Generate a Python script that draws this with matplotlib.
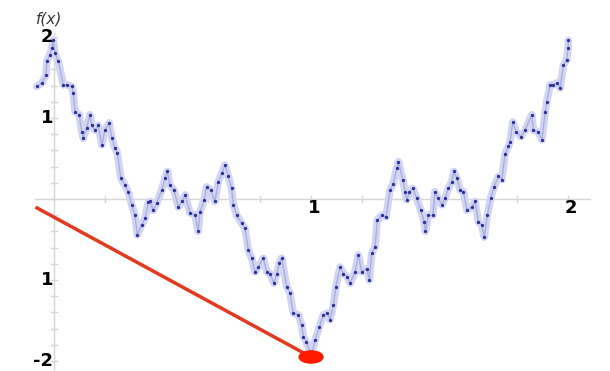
import matplotlib
matplotlib.use("Agg")
import matplotlib.pyplot as plt
import matplotlib.patches as patches

# sampled points of the curve f(x)
xs = [-0.067, -0.048, -0.031, -0.028, -0.016, -0.009, -0.003, 0.004, 0.017, 0.036,
      0.049, 0.069, 0.075, 0.082, 0.098, 0.108, 0.114, 0.127, 0.140, 0.147,
      0.160, 0.172, 0.186, 0.198, 0.215, 0.225, 0.237, 0.246, 0.260, 0.276,
      0.289, 0.302, 0.315, 0.324, 0.341, 0.354, 0.367, 0.374, 0.386, 0.400,
      0.419, 0.432, 0.441, 0.451, 0.467, 0.484, 0.497, 0.510, 0.529, 0.549,
      0.561, 0.568, 0.584, 0.594, 0.610, 0.626, 0.639, 0.653, 0.665, 0.678,
      0.691, 0.698, 0.711, 0.730, 0.743, 0.756, 0.769, 0.782, 0.795, 0.814,
      0.828, 0.840, 0.856, 0.867, 0.877, 0.886, 0.905, 0.918, 0.931, 0.951,
      0.964, 0.970, 0.981, 0.996, 1.000, 1.016, 1.032, 1.048, 1.063, 1.074,
      1.087, 1.097, 1.113, 1.126, 1.141, 1.152, 1.171, 1.184, 1.197, 1.217,
      1.227, 1.236, 1.249, 1.258, 1.275, 1.292, 1.307, 1.320, 1.333, 1.340,
      1.357, 1.366, 1.372, 1.383, 1.396, 1.411, 1.427, 1.440, 1.445, 1.456,
      1.474, 1.482, 1.495, 1.509, 1.521, 1.534, 1.547, 1.556, 1.567, 1.580,
      1.593, 1.606, 1.625, 1.638, 1.651, 1.664, 1.674, 1.686, 1.699, 1.712,
      1.729, 1.742, 1.755, 1.768, 1.774, 1.785, 1.798, 1.816, 1.833, 1.859,
      1.865, 1.884, 1.898, 1.911, 1.917, 1.930, 1.943, 1.956, 1.969, 1.982,
      1.994, 2.000, 2.001]
ys = [1.39, 1.43, 1.53, 1.70, 1.78, 1.86, 1.96, 1.80, 1.70, 1.41,
      1.41, 1.39, 1.31, 1.08, 1.04, 0.83, 0.75, 0.88, 1.04, 0.91,
      0.85, 0.91, 0.67, 0.85, 0.94, 0.75, 0.63, 0.57, 0.26, 0.17,
      0.09, -0.07, -0.20, -0.44, -0.32, -0.24, -0.04, -0.03, -0.14, -0.05,
      0.11, 0.26, 0.34, 0.17, 0.11, -0.10, -0.03, 0.05, -0.17, -0.20,
      -0.40, -0.16, -0.01, 0.15, 0.11, -0.03, 0.21, 0.32, 0.42, 0.28,
      0.13, -0.07, -0.20, -0.30, -0.36, -0.63, -0.73, -0.90, -0.84, -0.73,
      -0.90, -0.92, -1.04, -0.92, -0.79, -0.73, -1.08, -1.16, -1.41, -1.43,
      -1.56, -1.70, -1.76, -1.89, -1.95, -1.74, -1.58, -1.43, -1.41, -1.49,
      -1.31, -1.08, -0.84, -0.92, -0.96, -1.04, -0.90, -0.69, -0.90, -0.86,
      -1.00, -0.67, -0.59, -0.26, -0.20, -0.22, 0.11, 0.19, 0.38, 0.46,
      0.24, 0.09, -0.01, 0.09, 0.13, 0.01, -0.14, -0.28, -0.40, -0.20,
      -0.20, 0.09, 0.01, -0.07, 0.01, 0.13, 0.21, 0.34, 0.26, 0.11,
      0.09, -0.14, -0.10, -0.03, -0.28, -0.32, -0.47, -0.20, 0.01, 0.15,
      0.28, 0.24, 0.56, 0.65, 0.71, 0.95, 0.83, 0.77, 0.85, 1.04,
      0.85, 0.83, 0.73, 1.08, 1.20, 1.41, 1.41, 1.43, 1.37, 1.65,
      1.72, 1.86, 1.96]

# red segment ending at the minimum
seg_x = [-0.066, 1.0]
seg_y = [-0.11, -1.95]

ytick_vals = [2, 1, -1, -2]
ytick_text = ["2", "1", "1", "-2"]
xtick_vals = [1, 2]
xtick_text = ["1", "2"]

fig = plt.figure(figsize=(6.10, 3.71), dpi=100)
ax = fig.add_axes([0, 0, 1, 1])
ax.set_xlim(-0.210, 2.163)
ax.set_ylim(-2.123, 2.457)
ax.axis("off")

grey = "#d6d6d6"
# axes lines
ax.plot([-0.074, 2.086], [0, 0], color=grey, lw=1, zorder=1)
ax.plot([0, 0], [-2.1, 2.05], color=grey, lw=1, zorder=1)
# small ticks every 0.2
for i in range(-10, 11):
    v = i * 0.2
    ax.plot([-0.012, 0.012], [v, v], color=grey, lw=1, zorder=1)
for i in range(1, 11):
    v = i * 0.2
    ax.plot([v, v], [-0.04, 0.04], color=grey, lw=1, zorder=1)

for v, t in zip(ytick_vals, ytick_text):
    ax.text(-0.004, v, t, ha="right", va="center", fontsize=13,
            fontweight="bold", color="black")
for v, t in zip(xtick_vals, xtick_text):
    ax.text(v + 0.012, -0.11, t, ha="center", va="center", fontsize=13,
            fontweight="bold", color="black")

fig.text(36 / 610, 1 - 23 / 371, "f(x)", fontsize=11, style="italic",
         color="#333333", va="baseline")

# the curve: wide pale band, thin darker core, dots at samples
ax.plot(xs, ys, color="#d3d6f2", lw=5.5, solid_joinstyle="round",
        solid_capstyle="round", zorder=2)
ax.plot(xs, ys, color="#a9aee0", lw=1, zorder=3)
ax.plot(xs, ys, "o", color="#2b2f9a", ms=2.4, mew=0, zorder=4)

ax.plot(seg_x, seg_y, color="#e2391f", lw=2.5, zorder=5)
dot = patches.Ellipse((seg_x[1], seg_y[1]), 0.093, 0.15, color="#ff1a00", zorder=6)
ax.add_patch(dot)

fig.savefig("out.png", dpi=100)
